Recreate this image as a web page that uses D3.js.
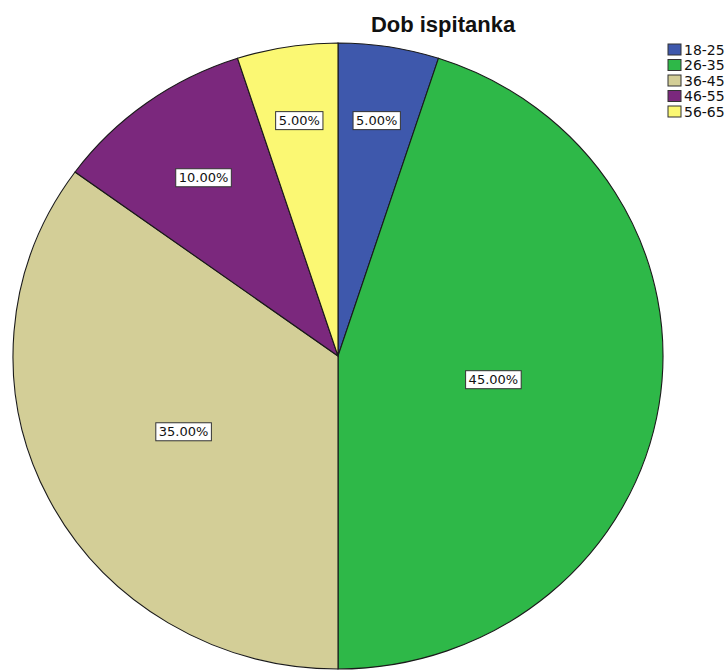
<!DOCTYPE html>
<html>
<head>
<meta charset="utf-8">
<script src="https://cdn.jsdelivr.net/npm/d3@7"></script>
<style>
  html, body { margin: 0; padding: 0; background: #fff; }
  svg { display: block; font-family: "Liberation Sans", Arial, sans-serif; }
</style>
</head>
<body>
<svg id="chart" width="728" height="670"></svg>
<script>
// Age groups and their share of respondents (percent)
const categories = ["18-25", "26-35", "36-45", "46-55", "56-65"];
const percents = [5, 45, 35, 10, 5];
const colors = ["#3E58AC", "#2EB848", "#D3CE97", "#7B287D", "#FBF873"];
const title = "Dob ispitanka";

const svg = d3.select("#chart");

// Pie geometry (slightly flattened vertically)
const cx = 338, cy = 356, rx = 325, ry = 313;

const data = categories.map((c, i) => ({ cat: c, value: percents[i], color: colors[i] }));

const pie = d3.pie()
  .value(d => d.value)
  .sort(null)
  .startAngle(0)
  .endAngle(2 * Math.PI);

const arcs = pie(data);
const arc = d3.arc().innerRadius(0).outerRadius(rx);

const pieG = svg.append("g")
  .attr("transform", `translate(${cx},${cy}) scale(1,${ry / rx})`);

pieG.selectAll("path")
  .data(arcs)
  .join("path")
  .attr("d", arc)
  .attr("fill", d => d.data.color)
  .attr("stroke", "#1a1a1a")
  .attr("stroke-width", 1.1)
  .attr("vector-effect", "non-scaling-stroke");

// Percentage labels in boxes
const fmt = d3.format(".2f");
const total = d3.sum(percents);
const labelG = svg.append("g");

arcs.forEach(a => {
  const frac = a.data.value / total;
  const k = 0.9 - 0.62 * Math.sqrt(frac);   // narrow slices push label outward
  const mid = (a.startAngle + a.endAngle) / 2;
  const lx = cx + rx * k * Math.sin(mid);
  const ly = cy - ry * k * Math.cos(mid);
  const g = labelG.append("g").attr("transform", `translate(${lx},${ly})`);
  const txt = g.append("text")
    .attr("text-anchor", "middle")
    .attr("dy", "0.36em")
    .attr("font-family", "'DejaVu Sans', sans-serif")
    .attr("font-size", 13)
    .attr("fill", "#111")
    .text(fmt(a.data.value) + "%");
  const bb = txt.node().getBBox();
  g.insert("rect", "text")
    .attr("x", bb.x - 3)
    .attr("y", -9)
    .attr("width", bb.width + 6)
    .attr("height", 18)
    .attr("fill", "#fff")
    .attr("stroke", "#333")
    .attr("stroke-width", 1);
});

// Title
svg.append("text")
  .attr("x", 443)
  .attr("y", 32)
  .attr("text-anchor", "middle")
  .attr("font-size", 22)
  .attr("font-weight", "bold")
  .attr("fill", "#111")
  .text(title);

// Legend
const legend = svg.append("g").attr("transform", "translate(668,44)");
const rowH = 15.5;
const rows = legend.selectAll("g")
  .data(data)
  .join("g")
  .attr("transform", (d, i) => `translate(0,${i * rowH})`);

rows.append("rect")
  .attr("width", 13)
  .attr("height", 11)
  .attr("fill", d => d.color)
  .attr("stroke", "#333")
  .attr("stroke-width", 1);

rows.append("text")
  .attr("x", 16)
  .attr("y", 5.5)
  .attr("dy", "0.36em")
  .attr("font-family", "'DejaVu Sans', sans-serif")
  .attr("font-size", 14)
  .attr("fill", "#111")
  .text(d => d.cat);
</script>
</body>
</html>
